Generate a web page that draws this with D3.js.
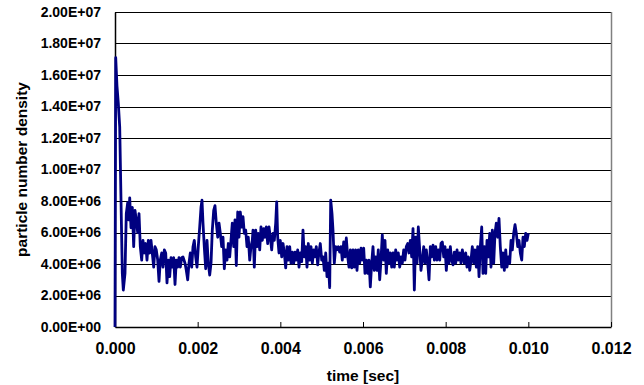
<!DOCTYPE html>
<html>
<head>
<meta charset="utf-8">
<script src="https://cdn.jsdelivr.net/npm/d3@7/dist/d3.min.js"></script>
<style>
  html, body { margin: 0; padding: 0; background: #fff; }
  svg { display: block; }
  text { font-family: "Liberation Sans", Arial, sans-serif; font-weight: bold; fill: #000; }
</style>
</head>
<body>
<div id="chart"></div>
<script>
// time in milliseconds
const timeMs = [
  0, 0.017, 0.048, 0.080, 0.114, 0.145, 0.177, 0.201, 0.242, 0.273,
  0.307, 0.331, 0.356, 0.387, 0.419, 0.452, 0.484, 0.515, 0.549, 0.581,
  0.612, 0.646, 0.677, 0.709, 0.743, 0.774, 0.806, 0.840, 0.871, 0.902,
  0.936, 0.968, 0.999, 1.033, 1.065, 1.096, 1.130, 1.161, 1.193, 1.227,
  1.258, 1.290, 1.323, 1.355, 1.386, 1.420, 1.452, 1.483, 1.517, 1.548,
  1.580, 1.614, 1.645, 1.694, 1.725, 1.759, 1.790, 1.822, 1.856, 1.887,
  1.919, 1.952, 1.984, 2.015, 2.049, 2.081, 2.105, 2.129, 2.160, 2.194,
  2.226, 2.257, 2.291, 2.323, 2.354, 2.388, 2.419, 2.451, 2.485, 2.516,
  2.548, 2.581, 2.613, 2.645, 2.678, 2.710, 2.741, 2.775, 2.806, 2.838,
  2.872, 2.903, 2.935, 2.969, 3.000, 3.032, 3.066, 3.097, 3.128, 3.162,
  3.194, 3.225, 3.259, 3.290, 3.322, 3.339, 3.370, 3.404, 3.436, 3.467,
  3.501, 3.532, 3.564, 3.598, 3.629, 3.661, 3.694, 3.726, 3.757, 3.791,
  3.823, 3.854, 3.888, 3.912, 3.936, 3.968, 3.999, 4.033, 4.065, 4.096,
  4.130, 4.161, 4.193, 4.227, 4.258, 4.290, 4.323, 4.355, 4.386, 4.420,
  4.452, 4.483, 4.517, 4.548, 4.580, 4.614, 4.645, 4.677, 4.711, 4.742,
  4.774, 4.807, 4.839, 4.870, 4.904, 4.935, 4.967, 5.001, 5.032, 5.064,
  5.098, 5.129, 5.161, 5.194, 5.219, 5.250, 5.274, 5.306, 5.340, 5.371,
  5.403, 5.436, 5.468, 5.499, 5.533, 5.565, 5.596, 5.630, 5.661, 5.693,
  5.727, 5.758, 5.790, 5.823, 5.855, 5.886, 5.920, 5.952, 5.983, 6.017,
  6.048, 6.080, 6.114, 6.145, 6.177, 6.210, 6.242, 6.273, 6.307, 6.339,
  6.370, 6.404, 6.435, 6.467, 6.501, 6.532, 6.564, 6.598, 6.629, 6.661,
  6.694, 6.726, 6.757, 6.791, 6.823, 6.854, 6.888, 6.919, 6.951, 6.985,
  7.016, 7.048, 7.082, 7.113, 7.145, 7.178, 7.210, 7.242, 7.275, 7.307,
  7.338, 7.372, 7.403, 7.435, 7.469, 7.500, 7.532, 7.566, 7.597, 7.629,
  7.662, 7.694, 7.726, 7.759, 7.791, 7.822, 7.856, 7.887, 7.919, 7.953,
  7.984, 8.016, 8.050, 8.081, 8.113, 8.146, 8.178, 8.210, 8.243, 8.275,
  8.306, 8.340, 8.371, 8.403, 8.451, 8.485, 8.516, 8.548, 8.582, 8.613,
  8.645, 8.678, 8.710, 8.742, 8.775, 8.807, 8.839, 8.872, 8.903, 8.935,
  8.969, 9.000, 9.032, 9.066, 9.097, 9.129, 9.162, 9.194, 9.225, 9.259,
  9.290, 9.322, 9.356, 9.387, 9.419, 9.453, 9.484, 9.516, 9.549, 9.581,
  9.613, 9.646, 9.678, 9.709, 9.743, 9.774, 9.806, 9.840, 9.871, 9.903,
  9.936, 9.968, 10.000
];

// particle number density in units of 1E6
const densityM = [
  0, 17.1, 15.3, 14.2, 12.7, 8.1, 3.4, 2.35, 3.4, 7.2,
  7.9, 6.8, 8.2, 6.3, 7.6, 5.1, 7.4, 6.8, 6.0, 7.2,
  5.1, 4.25, 5.5, 4.7, 5.3, 4.25, 5.5, 4.7, 5.5, 4.7,
  3.8, 5.1, 4.9, 4.25, 2.9, 4.25, 4.7, 3.8, 4.9, 4.7,
  2.8, 4.25, 3.2, 4.4, 3.8, 4.4, 2.7, 4.25, 3.8, 4.4,
  3.8, 4.4, 4.45, 4.05, 3.6, 3.0, 4.05, 4.7, 3.8, 5.1,
  5.5, 4.45, 3.8, 5.1, 6.35, 7.6, 8.05, 6.6, 5.1, 3.7,
  5.5, 4.05, 3.3, 4.05, 6.15, 7.4, 7.7, 6.6, 5.7, 6.6,
  5.95, 5.1, 5.7, 3.7, 4.9, 4.25, 5.3, 4.45, 5.5, 6.6,
  5.1, 6.8, 3.9, 7.3, 5.7, 7.3, 6.35, 7.0, 5.95, 6.15,
  5.1, 5.7, 4.25, 5.1, 5.5, 6.15, 3.8, 6.15, 5.1, 5.95,
  4.9, 6.35, 5.5, 6.25, 5.7, 6.35, 5.3, 6.35, 5.7, 4.9,
  5.95, 5.5, 6.6, 7.95, 5.7, 4.7, 5.5, 4.45, 5.3, 4.7,
  3.75, 5.1, 4.25, 5.1, 4.05, 4.75, 4.05, 4.75, 4.25, 4.9,
  3.8, 4.7, 4.15, 6.15, 4.45, 5.1, 3.8, 5.3, 4.25, 5.1,
  4.05, 4.9, 4.45, 5.1, 3.95, 4.75, 5.3, 4.25, 4.45, 3.6,
  4.7, 3.2, 4.05, 2.5, 8.05, 7.2, 6.15, 4.05, 5.1, 4.9,
  5.1, 4.75, 5.1, 4.25, 5.4, 4.45, 5.65, 4.45, 3.8, 4.9,
  3.75, 4.9, 3.8, 4.9, 3.6, 4.9, 4.05, 5.0, 4.25, 5.0,
  3.4, 4.25, 3.4, 4.25, 2.55, 4.05, 5.1, 3.6, 4.45, 3.6,
  4.9, 3.0, 4.25, 5.85, 4.25, 5.5, 3.4, 4.9, 4.05, 4.7,
  3.8, 4.7, 3.8, 4.9, 4.25, 4.7, 3.8, 4.45, 4.05, 4.9,
  4.25, 5.1, 5.3, 4.7, 5.5, 4.45, 6.25, 2.35, 5.7, 4.05,
  6.35, 4.9, 3.6, 4.25, 5.1, 4.05, 4.9, 4.05, 3.0, 5.1,
  4.45, 5.2, 4.25, 5.1, 4.25, 4.9, 4.25, 5.3, 5.4, 4.45,
  5.1, 3.6, 4.9, 4.05, 5.1, 4.25, 3.95, 4.75, 4.05, 4.9,
  4.25, 4.7, 4.05, 4.9, 4.05, 4.7, 3.8, 4.45, 3.6, 4.25,
  5.1, 4.05, 4.9, 3.8, 5.1, 3.2, 5.1, 6.35, 3.4, 5.1,
  3.4, 5.5, 4.45, 5.95, 3.8, 6.15, 4.05, 5.95, 6.6, 5.7,
  6.9, 5.1, 3.8, 4.7, 3.6, 4.9, 3.8, 4.45, 4.05, 5.5,
  4.9, 5.95, 6.5, 5.95, 5.1, 5.5, 4.7, 4.25, 5.7, 5.1,
  5.95, 5.5, 5.95
];

const xTicks = [0, 0.002, 0.004, 0.006, 0.008, 0.010, 0.012];
const yTicks = [0, 2e6, 4e6, 6e6, 8e6, 1e7, 1.2e7, 1.4e7, 1.6e7, 1.8e7, 2e7];

const width = 644, height = 385;
const margin = { top: 12, right: 33, bottom: 58, left: 115 };
const innerW = width - margin.left - margin.right;
const innerH = height - margin.top - margin.bottom;

const data = timeMs.map((t, i) => ({ t: t / 1000, v: densityM[i] * 1e6 }));

const svg = d3.select("#chart").append("svg")
  .attr("width", width)
  .attr("height", height);

const g = svg.append("g")
  .attr("transform", "translate(" + margin.left + "," + margin.top + ")");

const x = d3.scaleLinear().domain([0, 0.012]).range([0, innerW]);
const y = d3.scaleLinear().domain([0, 2e7]).range([innerH, 0]);

// horizontal gridlines
g.selectAll(".grid")
  .data(yTicks.slice(1))
  .enter()
  .append("line")
  .attr("x1", 0)
  .attr("x2", innerW)
  .attr("y1", d => Math.round(y(d)) + 0.5)
  .attr("y2", d => Math.round(y(d)) + 0.5)
  .attr("stroke", "#000")
  .attr("stroke-width", 1);

// right border
g.append("line")
  .attr("x1", innerW + 0.5).attr("x2", innerW + 0.5)
  .attr("y1", 0).attr("y2", innerH)
  .attr("stroke", "#808080")
  .attr("stroke-width", 1.5);

// y axis
const yAxis = g.append("g")
  .call(d3.axisLeft(y).tickValues(yTicks).tickSize(0).tickPadding(14)
    .tickFormat(d => d3.format(".2e")(d).replace("e", "E").replace(/E([+-])(\d)$/, "E$10$2")));
yAxis.select(".domain").attr("stroke", "#000").attr("stroke-width", 1.5);
yAxis.selectAll("text").style("font-size", "14px");

// x axis, ticks pointing inward
const xAxis = g.append("g")
  .attr("transform", "translate(0," + innerH + ")")
  .call(d3.axisBottom(x).tickValues(xTicks).tickSizeInner(-5).tickSizeOuter(0).tickPadding(16)
    .tickFormat(d3.format(".3f")));
xAxis.select(".domain").attr("stroke", "#000").attr("stroke-width", 1.5);
xAxis.selectAll(".tick line").attr("stroke", "#000");
xAxis.selectAll("text").style("font-size", "16px");

// data line
const line = d3.line()
  .x(d => x(d.t))
  .y(d => y(d.v));

g.append("path")
  .datum(data)
  .attr("d", line)
  .attr("fill", "none")
  .attr("stroke", "#000080")
  .attr("stroke-width", 2.8)
  .attr("stroke-linejoin", "round");

// axis titles
svg.append("text")
  .attr("x", margin.left + innerW / 2)
  .attr("y", 381)
  .attr("text-anchor", "middle")
  .style("font-size", "15.5px")
  .text("time [sec]");

svg.append("text")
  .attr("transform", "translate(27," + (margin.top + innerH / 2) + ") rotate(-90)")
  .attr("text-anchor", "middle")
  .style("font-size", "15.5px")
  .text("particle number density");
</script>
</body>
</html>
